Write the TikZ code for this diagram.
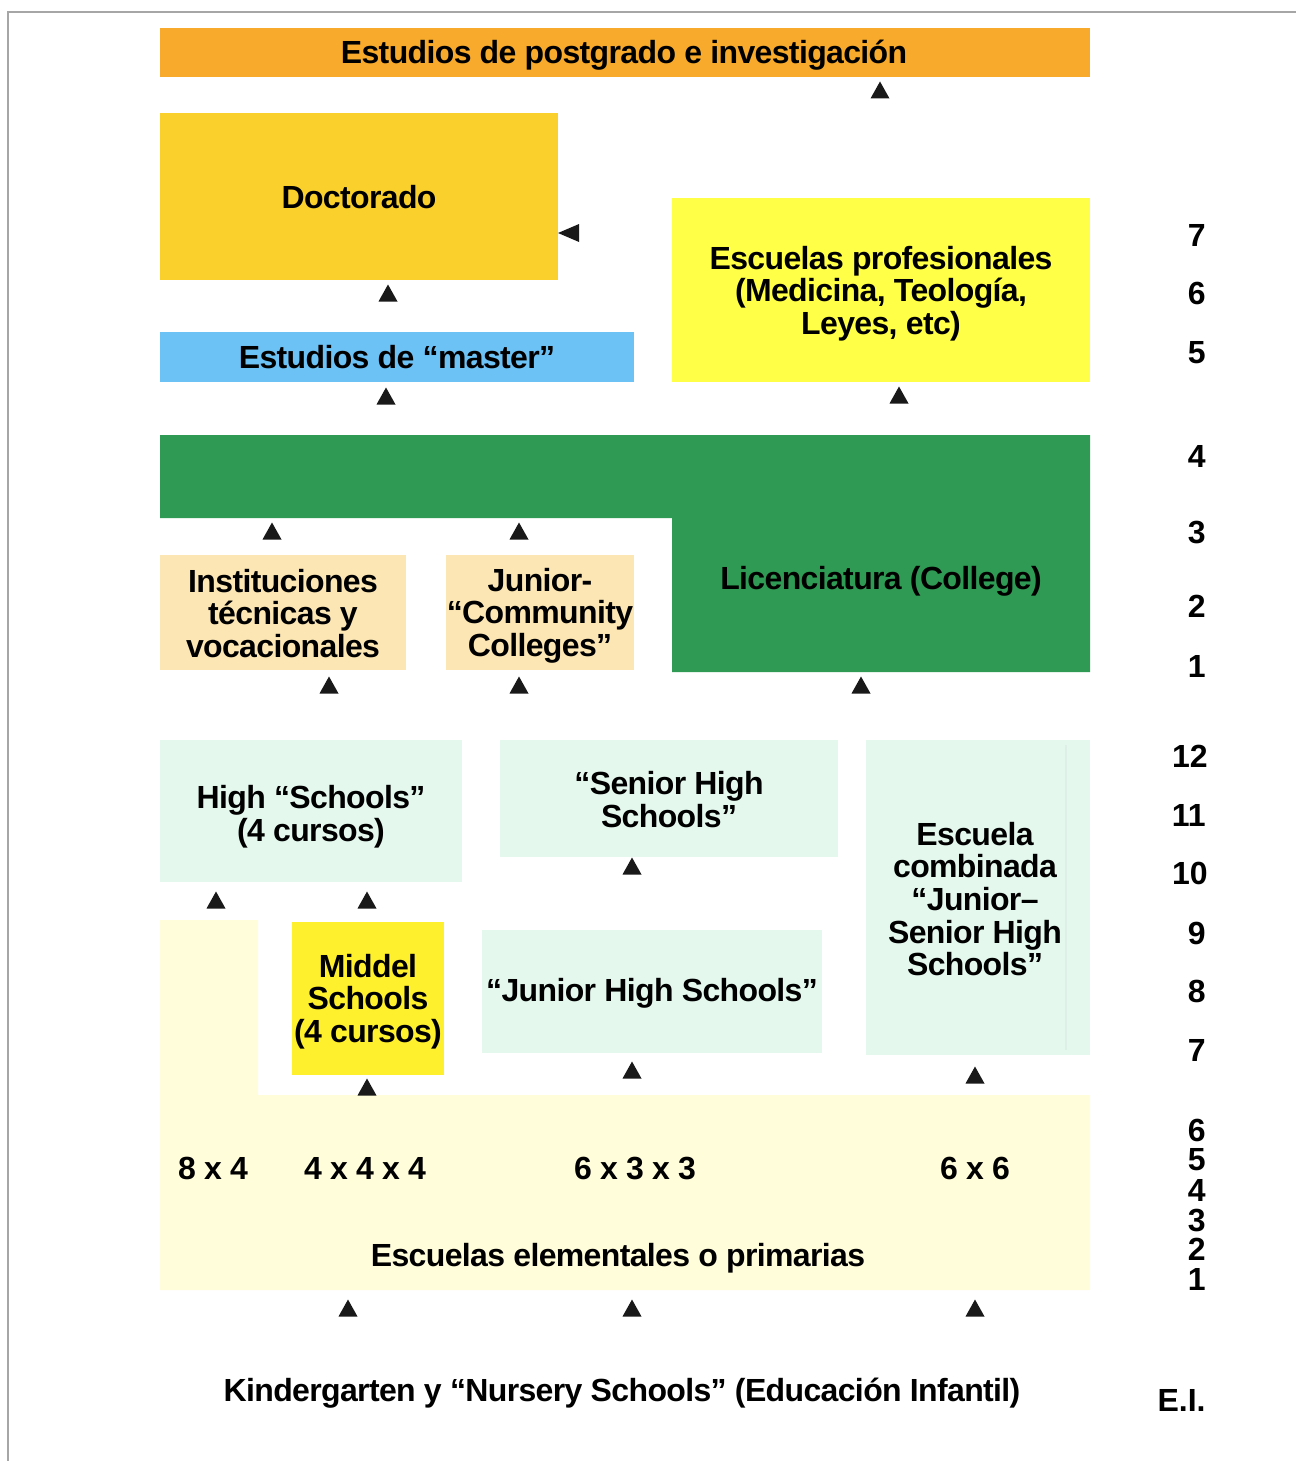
\documentclass[tikz,border=0pt]{standalone}
\usepackage{fontspec}
\setmainfont{Liberation Sans}[LetterSpace=-2]
\newfontfamily\numfont{Liberation Sans}
\definecolor{cOrange}{HTML}{F7AA2B}
\definecolor{cGold}{HTML}{FAD12C}
\definecolor{cYellow}{HTML}{FFFF48}
\definecolor{cBlue}{HTML}{6CC1F5}
\definecolor{cGreen}{HTML}{2E9A53}
\definecolor{cPeach}{HTML}{FCE6B4}
\definecolor{cMint}{HTML}{E4F8EE}
\definecolor{cLight}{HTML}{FFFDDA}
\definecolor{cMiddel}{HTML}{FFF02D}
\newcommand\labfont{\fontsize{16}{16.3}\selectfont\bfseries}
\newcommand\gradefont{\numfont\fontsize{16}{16}\selectfont\bfseries}
\newcommand\uparr[1]{\fill[tri] (#1) ++(-9.5,8.5) -- ++(19,0) -- ++(-9.5,-17) -- cycle;}
\tikzset{
  box/.style={inner sep=0pt, outer sep=0pt},
  lab/.style={inner sep=0pt, align=center, font=\labfont},
  grade/.style={inner sep=0pt, anchor=east, font=\gradefont},
  tri/.style={fill=black!90},
}
\begin{document}
\begin{tikzpicture}[x=0.5pt,y=-0.5pt]
\useasboundingbox (0,0) rectangle (1296,1461);
\fill[white] (0,0) rectangle (1296,1461);
\draw[gray!70, line width=1pt] (8,1461) -- (8,12) -- (1296,12);

% shaped backgrounds
\fill[cGreen] (160,435) -- (1090,435) -- (1090,672) -- (672,672) -- (672,518) -- (160,518) -- cycle;
\fill[cLight] (160,920) -- (258,920) -- (258,1095) -- (1090,1095) -- (1090,1290) -- (160,1290) -- cycle;

% boxes
\node[box, fill=cOrange, minimum width=465pt, minimum height=24.5pt] (post) at (625,52.5) {};
\node[box, fill=cGold, minimum width=199pt, minimum height=83.5pt] (doc) at (359,196.5) {};
\node[box, fill=cYellow, minimum width=209pt, minimum height=92pt] (prof) at (881,290) {};
\node[box, fill=cBlue, minimum width=237pt, minimum height=25pt] (master) at (397,357) {};
\node[box, fill=cPeach, minimum width=123pt, minimum height=57.5pt] (tec) at (283,612.5) {};
\node[box, fill=cPeach, minimum width=94pt, minimum height=57.5pt] (jcc) at (540,612.5) {};
\node[box, fill=cMint, minimum width=151pt, minimum height=71pt] (hs) at (311,811) {};
\node[box, fill=cMint, minimum width=169pt, minimum height=58.5pt] (shs) at (669,798.5) {};
\node[box, fill=cMint, minimum width=112pt, minimum height=157.5pt] (comb) at (978,897.5) {};
\draw[cMint!93!gray, line width=1pt] (1066,745) -- (1066,1050);
\node[box, fill=cMiddel, minimum width=76pt, minimum height=76.5pt] (mid) at (368,998.5) {};
\node[box, fill=cMint, minimum width=170pt, minimum height=61.5pt] (jhs) at (652,991.5) {};

% box texts
\node[lab] (tpost) at (624,55.5) {Estudios de postgrado e investigación};
\node[lab] (tdoc) at (359,197.5) {Doctorado};
\node[lab] (tprof) at (881,293.5) {Escuelas profesionales\\(Medicina, Teología,\\Leyes, etc)};
\node[lab] (tmaster) at (397,357) {Estudios de “master”};
\node[lab] (lic) at (881,581) {Licenciatura (College)};
\node[lab] (ttec) at (283,613.5) {Instituciones\\técnicas y\\vocacionales};
\node[lab] (tjcc) at (540,615.5) {Junior-\\“Community\\Colleges”};
\node[lab, text depth=0pt] (ths) at (311,813.5) {High “Schools”\\(4 cursos)};
\node[lab] (tshs) at (669,799.5) {“Senior High\\Schools”};
\node[lab] (tcomb) at (975,899) {Escuela\\combinada\\“Junior–\\Senior High\\Schools”};
\node[lab] (tmid) at (368,1001.5) {Middel\\Schools\\(4 cursos)};
\node[lab] (tjhs) at (652,993.5) {“Junior High Schools”};

% labels
\node[lab] (l84) at (213,1168) {8 x 4};
\node[lab] (l444) at (365,1168) {4 x 4 x 4};
\node[lab] (l633) at (635,1168) {6 x 3 x 3};
\node[lab] (l66) at (975,1168) {6 x 6};
\node[lab] (elem) at (618,1258) {Escuelas elementales o primarias};
\node[lab] (kind) at (622,1393) {Kindergarten y “Nursery Schools” (Educación Infantil)};

% grade numbers
\node[grade] (g7a) at (1206,235) {7};
\node[grade] (g6a) at (1206,293) {6};
\node[grade] (g5a) at (1206,353) {5};
\node[grade] (g4a) at (1206,456) {4};
\node[grade] (g3a) at (1206,533) {3};
\node[grade] (g2a) at (1206,606) {2};
\node[grade] (g1a) at (1206,666) {1};
\node[grade] (g12) at (1208,756) {12};
\node[grade] (g11) at (1206,815) {11};
\node[grade] (g10) at (1208,873) {10};
\node[grade] (g9) at (1206,933) {9};
\node[grade] (g8) at (1206,991) {8};
\node[grade] (g7) at (1206,1050) {7};
\node[grade] (g6) at (1206,1130) {6};
\node[grade] (g5) at (1206,1160) {5};
\node[grade] (g4) at (1206,1190) {4};
\node[grade] (g3) at (1206,1220) {3};
\node[grade] (g2) at (1206,1249) {2};
\node[grade] (g1) at (1206,1279) {1};
\node[grade] (ei) at (1206,1400) {E.I.};

% arrow heads
\uparr{880,90}
\uparr{388,293}
\uparr{386,396}
\uparr{899,395}
\uparr{272,531}
\uparr{519,531}
\uparr{329,685}
\uparr{519,685}
\uparr{861,685}
\uparr{216,900}
\uparr{367,900}
\uparr{632,866}
\uparr{367,1087}
\uparr{632,1070}
\uparr{975,1075}
\uparr{348,1308}
\uparr{632,1308}
\uparr{975,1308}
\fill[tri] (558,233) -- (579,224) -- (579,242) -- cycle;
\end{tikzpicture}
\end{document}
